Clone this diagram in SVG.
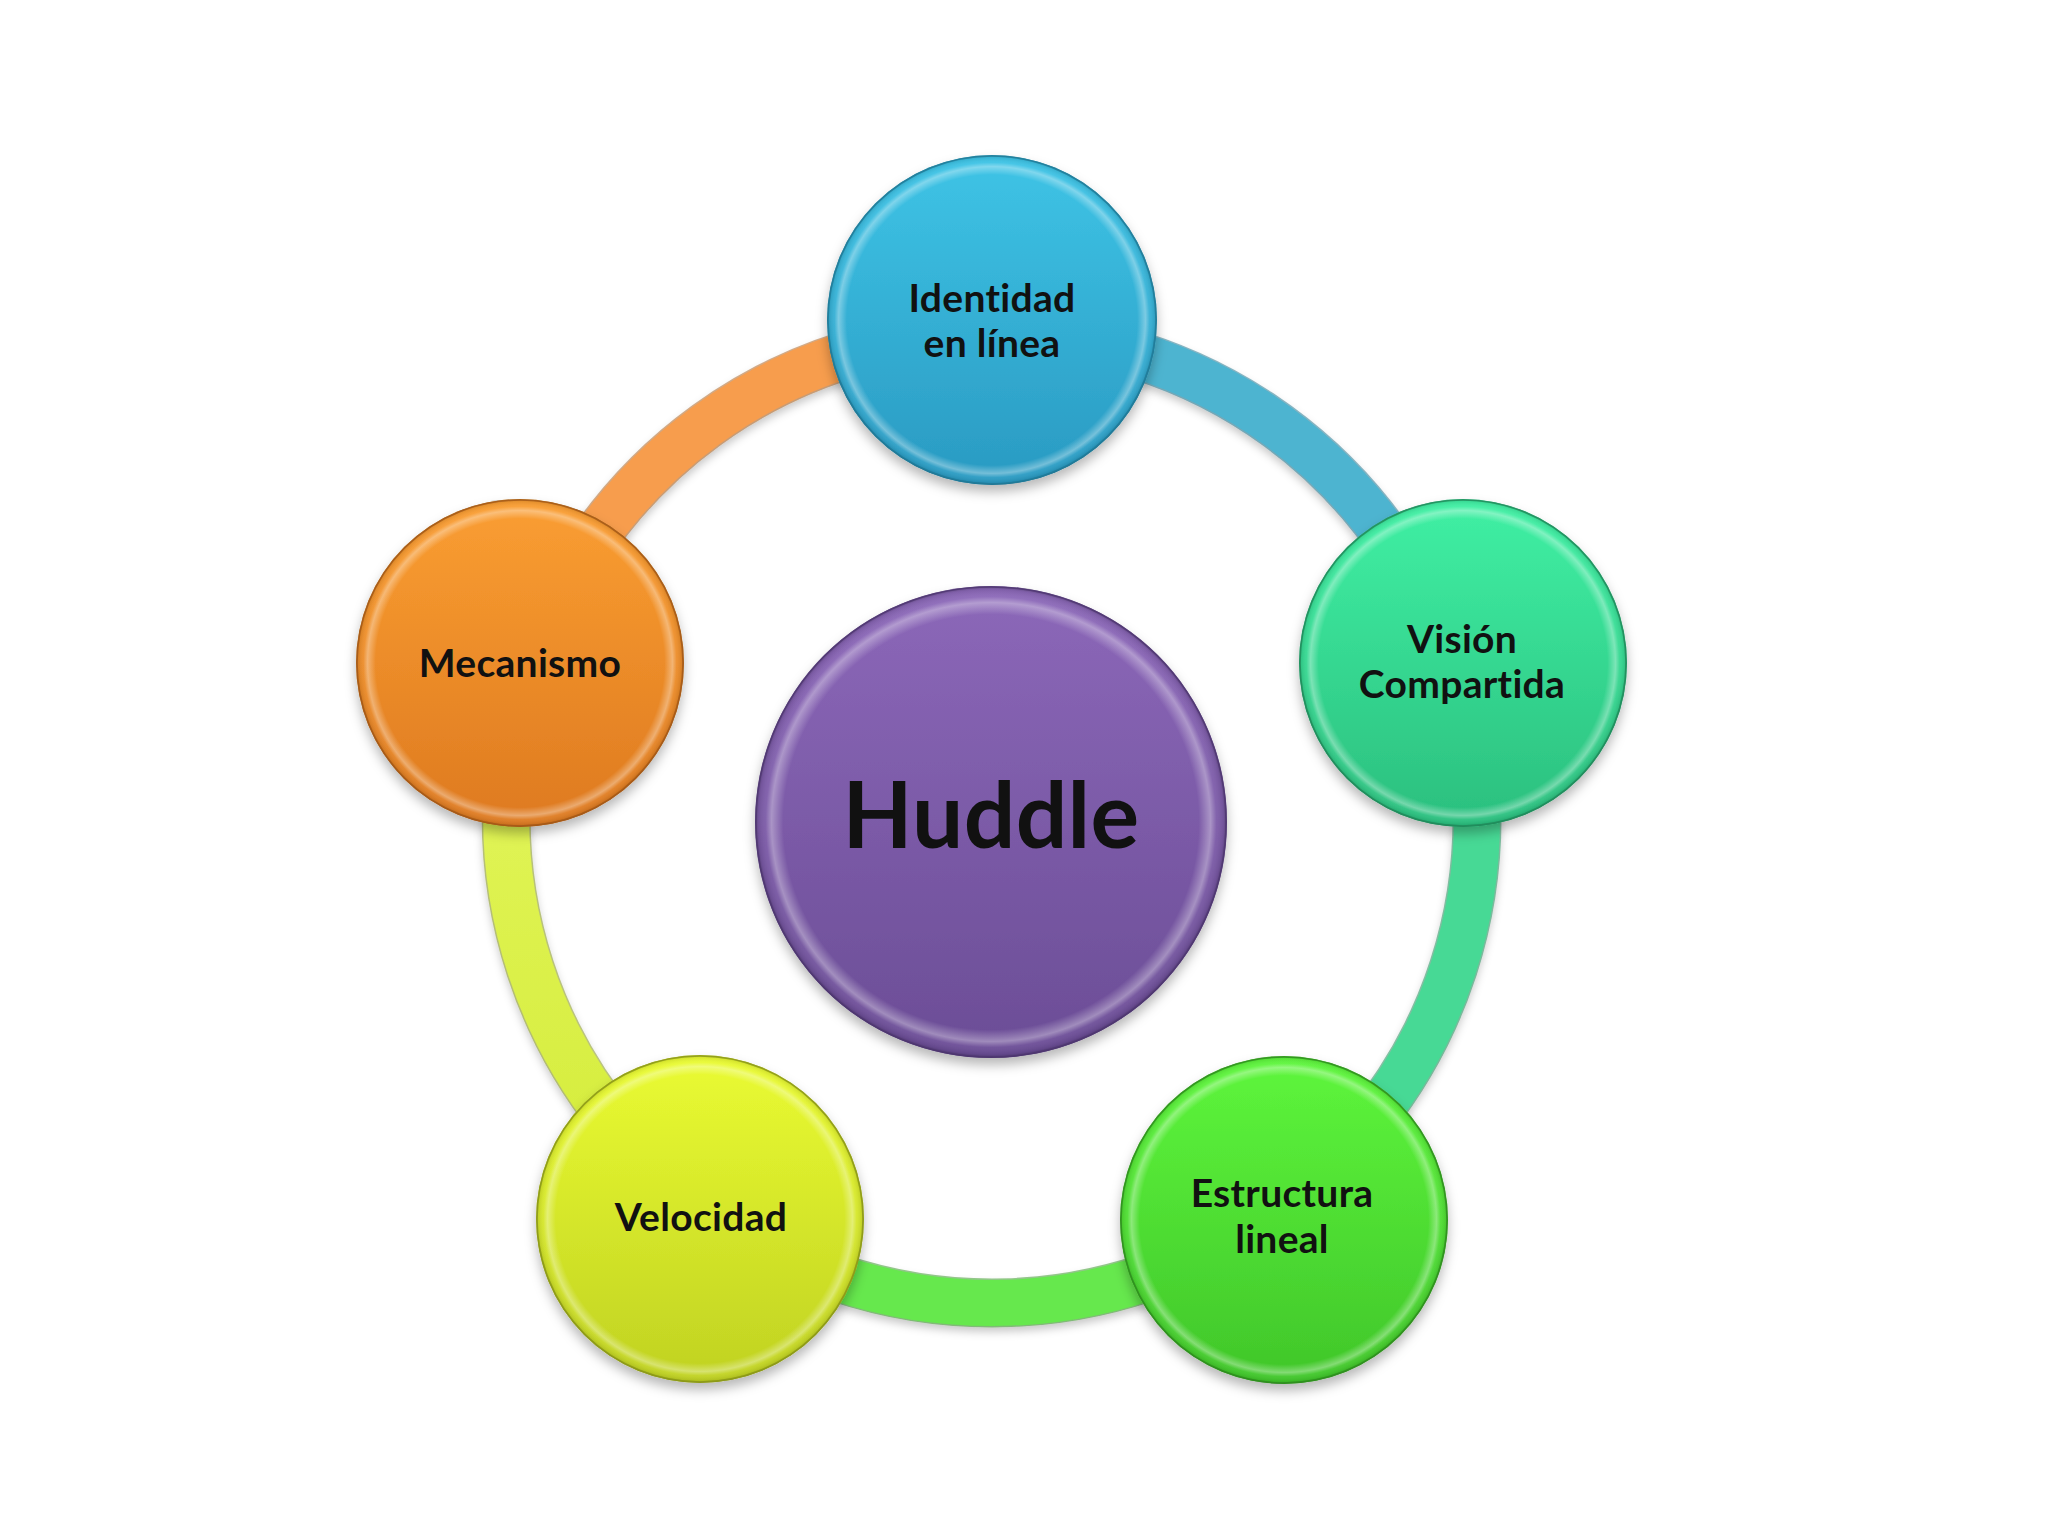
<svg xmlns="http://www.w3.org/2000/svg" width="2048" height="1536" viewBox="0 0 2048 1536">
<style>
.lbl{font-family:Lato,"Open Sans","Liberation Sans",sans-serif;font-weight:bold;font-size:39px;fill:#111;text-anchor:middle;letter-spacing:0.3px;font-variant-ligatures:none;font-feature-settings:"liga" 0,"clig" 0}
.big{font-size:91px}
.seg{fill:none;stroke-width:46}
.segE{fill:none;stroke-width:49;stroke-opacity:0.55}
.edge{fill:none;stroke-width:1.5;stroke-opacity:0.8}
</style>
<defs>
<filter id="sh" x="-20%" y="-20%" width="140%" height="140%">
<feDropShadow dx="0" dy="7" stdDeviation="6" flood-color="#000" flood-opacity="0.28"/>
</filter>
<filter id="shr" x="-10%" y="-10%" width="120%" height="120%">
<feDropShadow dx="0" dy="5" stdDeviation="4" flood-color="#000" flood-opacity="0.22"/>
</filter>
<radialGradient id="rim" cx="50%" cy="50%" r="50%">
<stop offset="0" stop-color="#fff" stop-opacity="0"/>
<stop offset="0.88" stop-color="#fff" stop-opacity="0"/>
<stop offset="0.93" stop-color="#fff" stop-opacity="0.35"/>
<stop offset="0.955" stop-color="#fff" stop-opacity="0.05"/>
<stop offset="0.985" stop-color="#000" stop-opacity="0.08"/>
<stop offset="1" stop-color="#000" stop-opacity="0.3"/>
</radialGradient>
<linearGradient id="gB" x1="0" y1="0" x2="0" y2="1"><stop offset="0" stop-color="#3EC4E6"/><stop offset="1" stop-color="#2A9AC2"/></linearGradient>
<linearGradient id="gV" x1="0" y1="0" x2="0" y2="1"><stop offset="0" stop-color="#40F0A4"/><stop offset="1" stop-color="#2BBF7E"/></linearGradient>
<linearGradient id="gE" x1="0" y1="0" x2="0" y2="1"><stop offset="0" stop-color="#5EF63C"/><stop offset="1" stop-color="#40C62A"/></linearGradient>
<linearGradient id="gY" x1="0" y1="0" x2="0" y2="1"><stop offset="0" stop-color="#EAFB32"/><stop offset="1" stop-color="#C0D222"/></linearGradient>
<linearGradient id="gO" x1="0" y1="0" x2="0" y2="1"><stop offset="0" stop-color="#FA9E32"/><stop offset="1" stop-color="#DE7A20"/></linearGradient>
<linearGradient id="gP" x1="0" y1="0" x2="0" y2="1"><stop offset="0" stop-color="#8C68B9"/><stop offset="1" stop-color="#6B4D96"/></linearGradient>
<linearGradient id="rY" x1="0" y1="0" x2="0" y2="1"><stop offset="0" stop-color="#E4F65E"/><stop offset="1" stop-color="#D4EC3A"/></linearGradient>
</defs>
<rect width="2048" height="1536" fill="#fff"/>
<g id="connectors" filter="url(#shr)">
<path class="segE" stroke="#B06A2A" d="M529.7,668.1 A485,485 0 0 1 992,333"/>
<path class="seg" stroke="#F79D4E" d="M529.7,668.1 A485,485 0 0 1 992,333"/>
<path class="segE" stroke="#2C7C94" d="M992,333 A485,485 0 0 1 1453.3,668.1"/>
<path class="seg" stroke="#4DB4D0" d="M992,333 A485,485 0 0 1 1453.3,668.1"/>
<path class="segE" stroke="#2A9460" d="M1453.3,668.1 A485,485 0 0 1 1277.1,1210.4"/>
<path class="seg" stroke="#47D995" d="M1453.3,668.1 A485,485 0 0 1 1277.1,1210.4"/>
<path class="segE" stroke="#3E9A2E" d="M1277.1,1210.4 A485,485 0 0 1 706.9,1210.4"/>
<path class="seg" stroke="#66E84E" d="M1277.1,1210.4 A485,485 0 0 1 706.9,1210.4"/>
<path class="segE" stroke="#8A9A22" d="M706.9,1210.4 A485,485 0 0 1 529.7,668.1"/>
<path class="seg" stroke="url(#rY)" d="M706.9,1210.4 A485,485 0 0 1 529.7,668.1"/>
</g>
<g id="node-huddle">
<circle cx="991" cy="822" r="236" fill="url(#gP)" filter="url(#sh)"/>
<circle cx="991" cy="822" r="236" fill="url(#rim)"/>
<circle cx="991" cy="822" r="235" class="edge" stroke="#4E3670"/>
<text class="lbl big" x="991" y="848">Huddle</text>
</g>
<g id="node-identidad">
<circle cx="992" cy="320" r="165" fill="url(#gB)" filter="url(#sh)"/>
<circle cx="992" cy="320" r="165" fill="url(#rim)"/>
<circle cx="992" cy="320" r="164" class="edge" stroke="#1F7A98"/>
<text class="lbl" x="992" y="312">Identidad</text>
<text class="lbl" x="992" y="357">en línea</text>
</g>
<g id="node-vision">
<circle cx="1463" cy="663" r="164" fill="url(#gV)" filter="url(#sh)"/>
<circle cx="1463" cy="663" r="164" fill="url(#rim)"/>
<circle cx="1463" cy="663" r="163" class="edge" stroke="#208A5A"/>
<text class="lbl" x="1462" y="653">Visión</text>
<text class="lbl" x="1462" y="698">Compartida</text>
</g>
<g id="node-estructura">
<circle cx="1284" cy="1220" r="164" fill="url(#gE)" filter="url(#sh)"/>
<circle cx="1284" cy="1220" r="164" fill="url(#rim)"/>
<circle cx="1284" cy="1220" r="163" class="edge" stroke="#2E8C1E"/>
<text class="lbl" x="1282" y="1207">Estructura</text>
<text class="lbl" x="1282" y="1253">lineal</text>
</g>
<g id="node-velocidad">
<circle cx="700" cy="1219" r="164" fill="url(#gY)" filter="url(#sh)"/>
<circle cx="700" cy="1219" r="164" fill="url(#rim)"/>
<circle cx="700" cy="1219" r="163" class="edge" stroke="#8A9618"/>
<text class="lbl" x="701" y="1231">Velocidad</text>
</g>
<g id="node-mecanismo">
<circle cx="520" cy="663" r="164" fill="url(#gO)" filter="url(#sh)"/>
<circle cx="520" cy="663" r="164" fill="url(#rim)"/>
<circle cx="520" cy="663" r="163" class="edge" stroke="#A45816"/>
<text class="lbl" x="520" y="677">Mecanismo</text>
</g>
</svg>
